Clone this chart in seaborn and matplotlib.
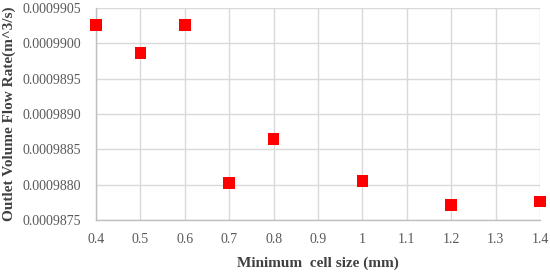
import matplotlib
matplotlib.use('Agg')
import matplotlib.pyplot as plt
import seaborn as sns
import pandas as pd

# ── Data ──────────────────────────────────────────────
cell_size = [0.4, 0.5, 0.6, 0.7, 0.8, 1.0, 1.2, 1.4]
flow_rate = [0.00099026, 0.00098986, 0.00099026, 0.00098802,
             0.00098865, 0.00098805, 0.00098771, 0.00098776]
x_ticks = [0.4, 0.5, 0.6, 0.7, 0.8, 0.9, 1.0, 1.1, 1.2, 1.3, 1.4]
x_tick_labels = ['0.4', '0.5', '0.6', '0.7', '0.8', '0.9', '1', '1.1', '1.2', '1.3', '1.4']
y_ticks = [0.0009875, 0.0009880, 0.0009885, 0.0009890, 0.0009895, 0.0009900, 0.0009905]

df = pd.DataFrame({'size': cell_size, 'flow': flow_rate})

sns.set_style('white')
plt.rcParams['font.family'] = ['Liberation Serif', 'DejaVu Serif']

fig = plt.figure(figsize=(5.5, 2.72), dpi=100)
ax = fig.add_axes([0.1745, 0.191, 0.8075, 0.78])

sns.scatterplot(data=df, x='size', y='flow', ax=ax, marker='s', s=70,
                color='#ff0000', edgecolor='none', zorder=3, clip_on=False)

ax.set_xlim(0.4, 1.4)
ax.set_ylim(0.0009875, 0.0009905)
ax.set_xticks(x_ticks)
ax.set_xticklabels(x_tick_labels)
ax.set_yticks(y_ticks)
ax.set_yticklabels([f'{v:.7f}' for v in y_ticks])
ax.grid(True, color='#d9d9d9', linewidth=1)
ax.tick_params(axis='both', length=0, labelsize=10, labelcolor='#595959')
ax.tick_params(axis='y', pad=11)
ax.tick_params(axis='x', pad=9)

for side in ['top', 'right']:
    ax.spines[side].set_visible(False)
for side in ['left', 'bottom']:
    ax.spines[side].set_color('#bfbfbf')
    ax.spines[side].set_linewidth(1)

ax.set_xlabel('Minimum  cell size (mm)', fontsize=11, fontweight='bold',
              color='#404040', labelpad=8)
ax.set_ylabel('Outlet Volume Flow Rate(m^3/s)', fontsize=11, fontweight='bold',
              color='#404040')
ax.yaxis.set_label_coords(-0.18, 0.5)

plt.savefig('out.png', dpi=100)
